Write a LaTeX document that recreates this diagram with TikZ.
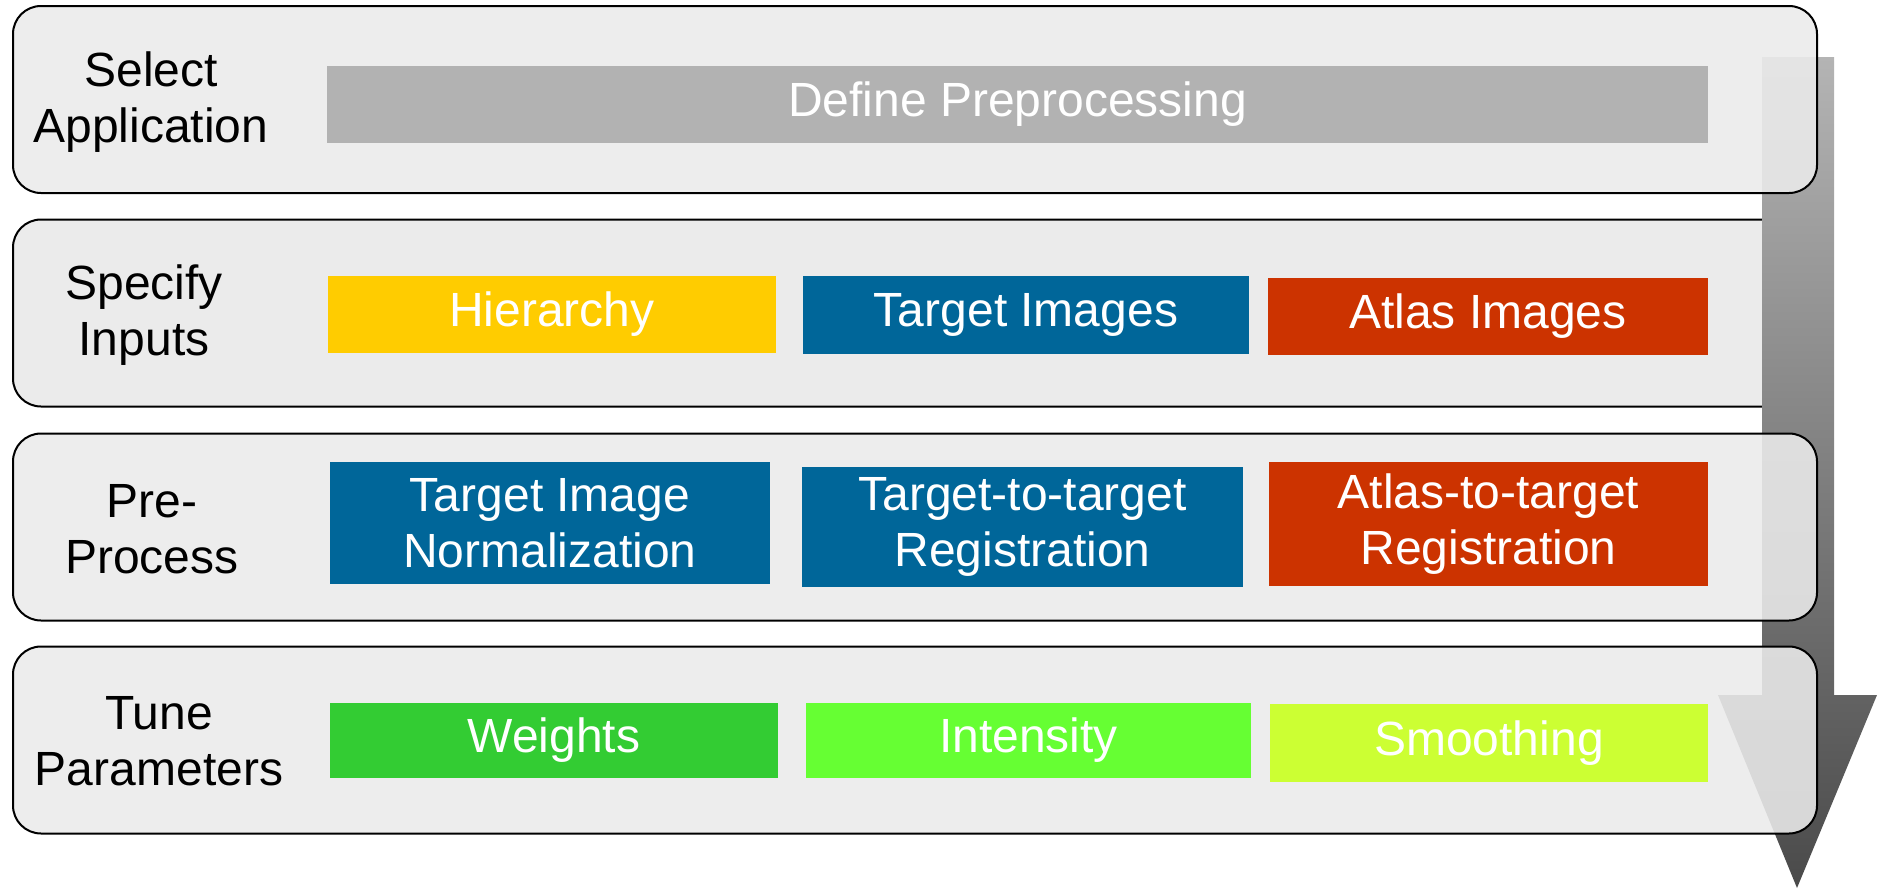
\documentclass[tikz,border=0pt]{standalone}
\usepackage{fontspec}
\setmainfont{Liberation Sans}
\definecolor{panelfill}{HTML}{EBEBEB}
\definecolor{dpgray}{HTML}{B2B2B2}
\definecolor{hieryellow}{HTML}{FFCC00}
\definecolor{tblue}{HTML}{006699}
\definecolor{ared}{HTML}{CC3300}
\definecolor{wgreen}{HTML}{33CC33}
\definecolor{igreen}{HTML}{66FF33}
\definecolor{sgreen}{HTML}{CCFF33}
\definecolor{arrtop}{HTML}{B4B4B4}
\definecolor{arrbot}{HTML}{4A4A4A}
\tikzset{
  panel/.style={draw=black, line width=2pt, rounded corners=28pt, fill=panelfill, fill opacity=0.88, minimum width=1804pt, minimum height=187pt, inner sep=0pt},
  lbl/.style={align=center, text=black, font=\fontsize{48}{56}\selectfont, inner sep=0pt},
  box/.style={rectangle, inner sep=0pt, align=center, text=white, font=\fontsize{48}{56}\selectfont},
}
\begin{document}
\begin{tikzpicture}[x=1pt,y=-1pt]
\useasboundingbox (0,0) rectangle (1883,889);
% panel 2 lies behind the arrow
\node[panel, fill=panelfill, fill opacity=1] (p2) at (915,313) {};
% arrow
\shade[top color=arrtop, bottom color=arrbot] (1762,57) -- (1834,57) -- (1834,695) -- (1877,695) -- (1797,888) -- (1718,695) -- (1762,695) -- cycle;
% translucent panels
\node[panel] (p1) at (915,99.5) {};
\node[panel] (p3) at (915,527) {};
\node[panel] (p4) at (915,740) {};
% labels
\node[lbl] (l1) at (151,102) {Select\\Application};
\node[lbl] (l2) at (144,315) {Specify\\Inputs};
\node[lbl] (l3) at (152,529) {Pre-\\Process};
\node[lbl] (l4) at (159,741) {Tune\\Parameters};
% boxes
\node[box, fill=dpgray, minimum width=1381pt, minimum height=77pt] (dp) at (1017.5,104.5) {Define Preprocessing};
\node[box, fill=hieryellow, minimum width=448pt, minimum height=77pt] (hier) at (552,314.5) {Hierarchy};
\node[box, fill=tblue, minimum width=446pt, minimum height=78pt] (timg) at (1026,315) {Target Images};
\node[box, fill=ared, minimum width=440pt, minimum height=77pt] (aimg) at (1488,316.5) {Atlas Images};
\node[box, fill=tblue, minimum width=440pt, minimum height=122pt] (tin) at (550,523) {Target Image\\Normalization};
\node[box, fill=tblue, minimum width=441pt, minimum height=120pt] (ttt) at (1022.5,527) {Target-to-target\\Registration};
\node[box, fill=ared, minimum width=439pt, minimum height=124pt] (att) at (1488.5,524) {Atlas-to-target\\Registration};
\node[box, fill=wgreen, minimum width=448pt, minimum height=75pt] (wts) at (554,740.5) {Weights};
\node[box, fill=igreen, minimum width=445pt, minimum height=75pt] (int) at (1028.5,740.5) {Intensity};
\node[box, fill=sgreen, minimum width=438pt, minimum height=78pt] (smo) at (1489,743) {Smoothing};
\end{tikzpicture}
\end{document}
